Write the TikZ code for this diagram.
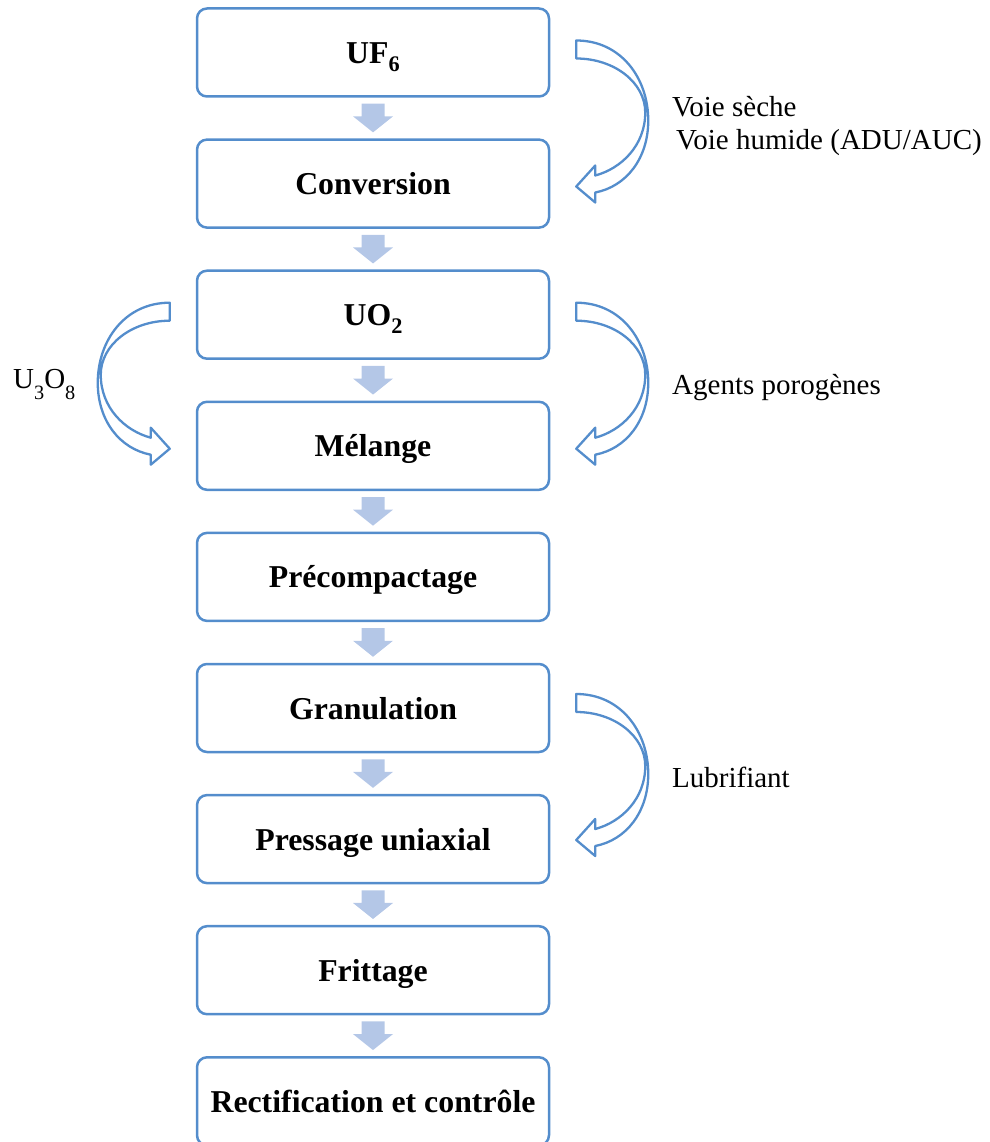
\documentclass[tikz,border=0pt]{standalone}
\usepackage{fontspec}
\setmainfont{Liberation Serif}
\usetikzlibrary{calc}
\definecolor{boxblue}{RGB}{84,141,204}
\definecolor{arrowfill}{RGB}{180,199,231}
\newcommand\lowsub[2]{\raisebox{-#1em}{\scalebox{0.7}{#2}}}
\newcommand\flowarrow[2]{%
  \fill[flow] ($(#1.south)+(-11.5,6)$) -- ($(#1.south)+(11.5,6)$)
    -- ($(#2.north)+(11.5,-22)$) -- ($(#2.north)+(20,-22)$)
    -- ($(#2.north)+(0,-6)$) -- ($(#2.north)+(-20,-22)$)
    -- ($(#2.north)+(-11.5,-22)$) -- cycle;}
\newcommand\bendarrow[2]{%
  \begin{scope}[shift={(#1)}, xscale=#2]
    \draw[curved] (0,0) .. controls (45,0) and (72,38) .. (72,80)
      .. controls (72,118) and (50,146) .. (19,152)
      -- (19,162) -- (0,146) -- (19,125) -- (19,135)
      .. controls (45,128) and (69,105) .. (69,72)
      .. controls (69,42) and (38,18) .. (0,18) -- cycle;
  \end{scope}}
\begin{document}
\begin{tikzpicture}[x=1pt,y=-1pt,
  stage/.style={draw=boxblue, line width=2.5pt, rounded corners=10pt,
    minimum width=352pt, minimum height=88pt, inner sep=0pt,
    font=\fontsize{31.8}{38}\selectfont\bfseries, text height=22pt, text depth=0pt},
  sidelabel/.style={font=\fontsize{29}{35}\selectfont, anchor=base west, inner sep=0pt},
  curved/.style={draw=boxblue, line width=2.3pt, fill=white, line join=round},
  flow/.style={fill=arrowfill}]
\clip (0,0) rectangle (989,1142);
\node[stage] (n1) at (373,52.5) {UF\lowsub{0.25}{6}};
\node[stage] (n2) at (373,183.6) {Conversion};
\node[stage] (n3) at (373,314.7) {UO\lowsub{0.25}{2}};
\node[stage] (n4) at (373,445.8) {Mélange};
\node[stage] (n5) at (373,576.9) {Précompactage};
\node[stage] (n6) at (373,708.0) {Granulation};
\node[stage] (n7) at (373,839.1) {Pressage uniaxial};
\node[stage] (n8) at (373,970.2) {Frittage};
\node[stage] (n9) at (373,1101.3) {Rectification et contrôle};
\flowarrow{n1}{n2}
\flowarrow{n2}{n3}
\flowarrow{n3}{n4}
\flowarrow{n4}{n5}
\flowarrow{n5}{n6}
\flowarrow{n6}{n7}
\flowarrow{n7}{n8}
\flowarrow{n8}{n9}
\bendarrow{$(n1.east)+(26,-12)$}{1}
\bendarrow{$(n3.east)+(26,-12)$}{1}
\bendarrow{$(n6.east)+(26,-14)$}{1}
\bendarrow{$(n3.west)+(-26,-12)$}{-1}
\node[sidelabel] (l1) at (672,117) {Voie sèche};
\node[sidelabel] (l2) at (676,150) {Voie humide (ADU/AUC)};
\node[sidelabel] (l3) at (672,394) {Agents porogènes};
\node[sidelabel] (l4) at (672,787) {Lubrifiant};
\node[sidelabel] (l5) at (13,388) {U\lowsub{0.38}{3}O\lowsub{0.38}{8}};
\end{tikzpicture}
\end{document}
